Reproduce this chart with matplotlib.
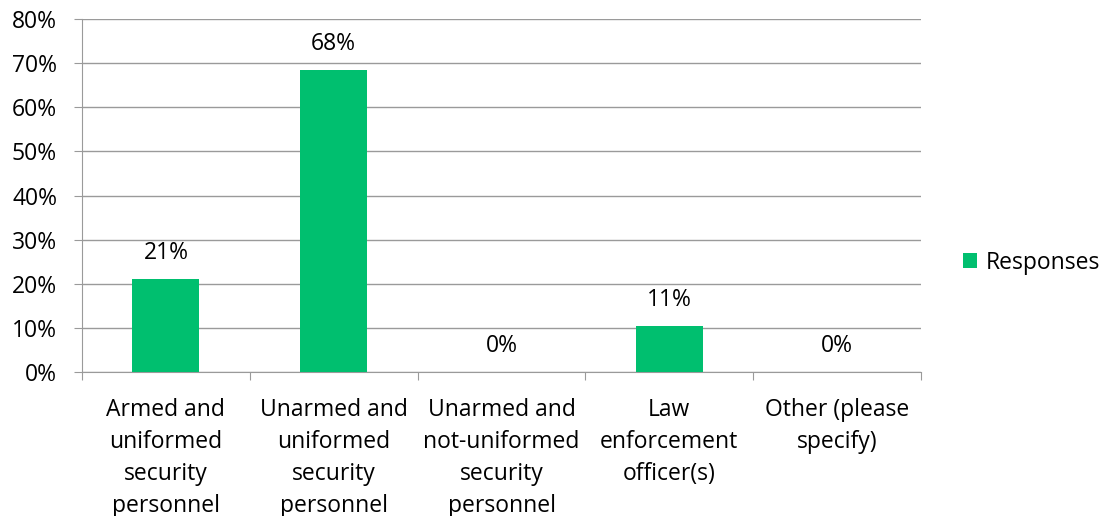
import numpy as np
import matplotlib.pyplot as plt

categories = ["Armed and\nuniformed\nsecurity\npersonnel",
              "Unarmed and\nuniformed\nsecurity\npersonnel",
              "Unarmed and\nnot-uniformed\nsecurity\npersonnel",
              "Law\nenforcement\nofficer(s)",
              "Other (please\nspecify)"]
responses = [21.05, 68.42, 0.0, 10.53, 0.0]
labels = ["21%", "68%", "0%", "11%", "0%"]

plt.rcParams['font.family'] = ['Open Sans', 'DejaVu Sans']
green = '#00BF6F'
gray = '#9A9A9A'
fs = 16.5

fig = plt.figure(figsize=(11.04, 5.16), dpi=100)
ax = fig.add_axes([0.0743, 0.279, 0.760, 0.684])

x = np.arange(len(categories))
ax.bar(x, responses, width=0.4, color=green, label='Responses', zorder=3)
for xi, v, t in zip(x, responses, labels):
    ax.annotate(t, (xi, v), xytext=(0, 14.4), textcoords='offset points',
                ha='center', va='baseline', fontsize=fs, color='black')

ax.set_xlim(-0.5, len(categories) - 0.5)
ax.set_ylim(0, 80)
ax.set_yticks(np.arange(0, 81, 10))
ax.set_yticklabels([f"{v}%" for v in range(0, 81, 10)], fontsize=fs)
ax.yaxis.grid(True, color=gray, linewidth=1, zorder=0)

ax.set_xticks(np.arange(-0.5, len(categories), 1.0))
ax.set_xticklabels([])
ax.set_xticks(x, minor=True)
ax.set_xticklabels(categories, minor=True, fontsize=fs, linespacing=1.44)
ax.tick_params(axis='x', which='minor', length=0, pad=19)
ax.tick_params(axis='x', which='major', length=5.5, color=gray)
ax.tick_params(axis='y', length=6, color=gray, pad=12)

for s in ['top', 'right']:
    ax.spines[s].set_visible(False)
for s in ['left', 'bottom']:
    ax.spines[s].set_color(gray)

ax.legend(loc='center left', bbox_to_anchor=(1.05, 0.31), frameon=False,
          fontsize=fs, handlelength=0.6, handleheight=0.6, handletextpad=0.4,
          borderpad=0, borderaxespad=0)

fig.savefig('out.png', dpi=100)
